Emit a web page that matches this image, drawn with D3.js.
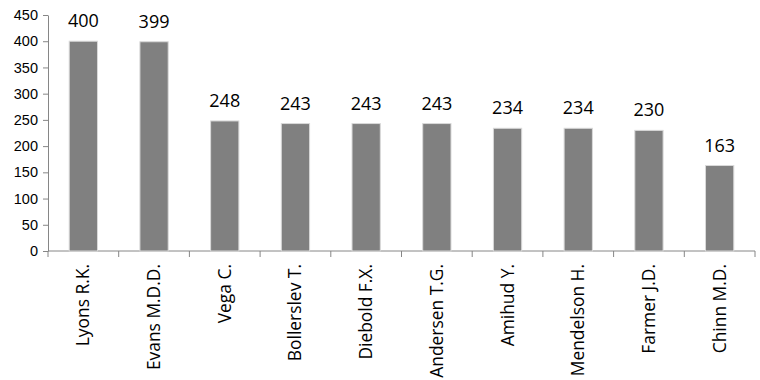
<!DOCTYPE html>
<html lang="en">
<head>
<meta charset="UTF-8">
<title>Authors</title>
<script src="https://cdn.jsdelivr.net/npm/d3@7"></script>
<style>
    body { margin: 0; background: #fff; }
    svg { font-family: "Open Sans", sans-serif; }
    .axis path, .axis line { stroke: #868686; }
    .axis text { fill: #000; font-size: 14.5px; }
    .bar { fill: #808080; stroke: #d9d9d9; stroke-width: 1; }
    .val { font-size: 18px; fill: #000; }
</style>
</head>
<body>
<svg id="chart" width="760" height="380"></svg>
<script>
    let authors = ['Lyons R.K.', 'Evans M.D.D.', 'Vega C.', 'Bollerslev T.', 'Diebold F.X.',
        'Andersen T.G.', 'Amihud Y.', 'Mendelson H.', 'Farmer J.D.', 'Chinn M.D.']
    let counts = [400, 399, 248, 243, 243, 243, 234, 234, 230, 163]
    let yTicks = [0, 50, 100, 150, 200, 250, 300, 350, 400, 450]

    let svg = d3.select('#chart')
    let mLeft = 48, mRight = 755, mTop = 15, mBottom = 251

    let x = d3.scaleBand()
        .domain(authors)
        .range([mLeft, mRight])
        .paddingInner(0.6)
        .paddingOuter(0.3)
    let xTick = d3.scaleBand().domain(authors).range([mLeft, mRight])

    let y = d3.scaleLinear().domain([0, 450]).range([mBottom, mTop])

    //y axis
    svg.append('g')
        .attr('class', 'axis')
        .attr('transform', `translate(${mLeft},0)`)
        .call(d3.axisLeft(y).tickValues(yTicks).tickSize(5).tickSizeOuter(0).tickPadding(5))

    //x axis with ticks between categories
    let xg = svg.append('g')
        .attr('class', 'axis')
        .attr('transform', `translate(0,${mBottom})`)
    xg.append('line')
        .attr('x1', mLeft).attr('x2', mRight)
        .attr('stroke', '#868686')
    xg.selectAll('line.tk')
        .data(authors.concat(['end']))
        .join('line')
        .attr('class', 'tk')
        .attr('x1', (d, i) => mLeft + i * xTick.bandwidth())
        .attr('x2', (d, i) => mLeft + i * xTick.bandwidth())
        .attr('y1', 0).attr('y2', 6)
        .attr('stroke', '#868686')
    xg.selectAll('text')
        .data(authors)
        .join('text')
        .attr('transform', d => `translate(${xTick(d) + xTick.bandwidth() / 2 + 6},13) rotate(-90)`)
        .attr('text-anchor', 'end')
        .style('font-size', '17.4px')
        .text(d => d)

    //bars
    svg.selectAll('rect.bar')
        .data(authors)
        .join('rect')
        .attr('class', 'bar')
        .attr('x', d => x(d))
        .attr('width', x.bandwidth())
        .attr('y', (d, i) => y(counts[i]))
        .attr('height', (d, i) => y(0) - y(counts[i]))

    //value labels
    svg.selectAll('text.val')
        .data(authors)
        .join('text')
        .attr('class', 'val')
        .attr('x', d => x(d) + x.bandwidth() / 2)
        .attr('y', (d, i) => y(counts[i]) - 14)
        .attr('text-anchor', 'middle')
        .text((d, i) => counts[i])
</script>
</body>
</html>
